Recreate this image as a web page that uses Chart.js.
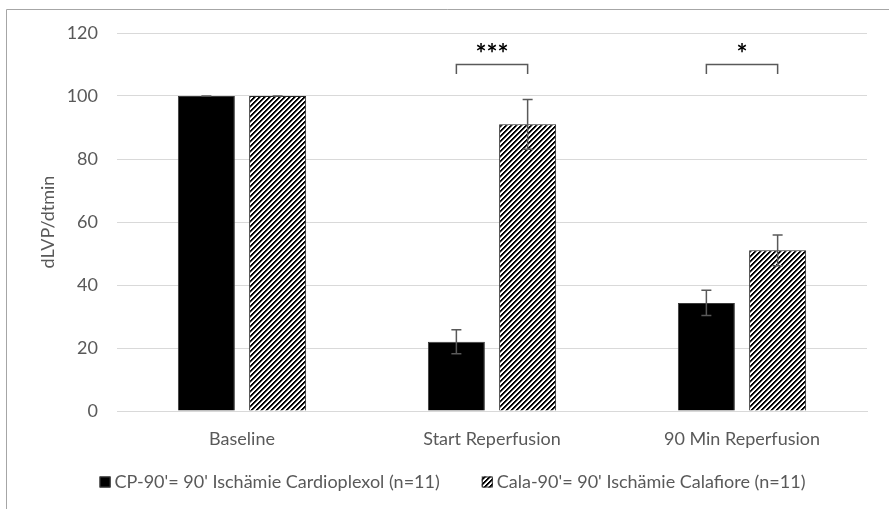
<!DOCTYPE html>
<html lang="de">
<head>
<meta charset="utf-8">
<script src="https://cdn.jsdelivr.net/npm/chart.js@4.4.0/dist/chart.umd.min.js"></script>
<style>
  html, body { margin: 0; padding: 0; background: #fff; }
  #wrap { position: relative; width: 889px; height: 509px; }
</style>
</head>
<body>
<div id="wrap"><canvas id="chart" width="889" height="509"></canvas></div>
<script>
// values
var categories = ['Baseline', 'Start Reperfusion', '90 Min Reperfusion'];
var seriesNames = ["CP-90'= 90' Ischämie Cardioplexol (n=11)", "Cala-90'= 90' Ischämie Calafiore (n=11)"];
var cpValues = [100, 22, 34.3];
var cpErrors = [0, 3.8, 4];
var calaValues = [100, 91, 51];
var calaErrors = [0, 7.9, 4.9];
var sigMarks = ['', '***', '*'];
var sigLevel = [0, 110, 110];
var yMin = 0, yMax = 120, yStep = 20;

var grey = '#595959';
var font = 'Lato';

// wide upward diagonal hatch like the Excel fill
function makeHatch(ctx) {
  var c = document.createElement('canvas');
  c.width = 5; c.height = 5;
  var g = c.getContext('2d');
  g.fillStyle = '#fff';
  g.fillRect(0, 0, 5, 5);
  for (var x = 0; x < 5; x++) {
    for (var y = 0; y < 5; y++) {
      var k = (x + y) % 5;
      if (k < 2) { g.fillStyle = '#000'; g.fillRect(x, y, 1, 1); }
      else if (k == 2) { g.fillStyle = '#808080'; g.fillRect(x, y, 1, 1); }
    }
  }
  return ctx.createPattern(c, 'repeat');
}

var canvas = document.getElementById('chart');
var ctx = canvas.getContext('2d');

// frame of the pasted chart (left and top edge only)
var framePlugin = {
  id: 'frame',
  beforeDraw: function(chart) {
    var c = chart.ctx;
    c.save();
    c.fillStyle = '#fff';
    c.fillRect(0, 0, chart.width, chart.height);
    c.strokeStyle = '#a6a6a6';
    c.lineWidth = 1;
    c.beginPath();
    c.moveTo(6.5, chart.height);
    c.lineTo(6.5, 9.5);
    c.lineTo(chart.width, 9.5);
    c.stroke();
    c.restore();
  }
};

// standard error bars
var errorBarPlugin = {
  id: 'errorBars',
  afterDatasetsDraw: function(chart) {
    var c = chart.ctx, ys = chart.scales.y;
    c.save();
    c.strokeStyle = grey;
    c.lineWidth = 1.5;
    chart.data.datasets.forEach(function(ds, di) {
      chart.getDatasetMeta(di).data.forEach(function(bar, i) {
        var v = ds.data[i], e = ds.errors[i];
        var top = ys.getPixelForValue(v + e), bot = ys.getPixelForValue(v - e);
        c.beginPath();
        c.moveTo(bar.x, top); c.lineTo(bar.x, bot);
        c.moveTo(bar.x - 5, top); c.lineTo(bar.x + 5, top);
        c.moveTo(bar.x - 5, bot); c.lineTo(bar.x + 5, bot);
        c.stroke();
      });
    });
    c.restore();
  }
};

// significance brackets between the two bars of a group
var sigPlugin = {
  id: 'sig',
  afterDraw: function(chart) {
    var c = chart.ctx, ys = chart.scales.y;
    var m0 = chart.getDatasetMeta(0).data, m1 = chart.getDatasetMeta(1).data;
    c.save();
    sigMarks.forEach(function(mark, i) {
      if (!mark) return;
      var x1 = m0[i].x, x2 = m1[i].x;
      var yTop = ys.getPixelForValue(sigLevel[i]);
      var yLeg = ys.getPixelForValue(sigLevel[i] - 3);
      c.strokeStyle = grey;
      c.lineWidth = 1.5;
      c.beginPath();
      c.moveTo(x1, yLeg); c.lineTo(x1, yTop); c.lineTo(x2, yTop); c.lineTo(x2, yLeg);
      c.stroke();
      c.fillStyle = '#000';
      c.font = 'bold 26px ' + font;
      c.textAlign = 'center';
      c.textBaseline = 'alphabetic';
      c.fillText(mark, (x1 + x2) / 2, yTop - 2);
    });
    c.restore();
  }
};

// legend under the axis, Excel style (small box, short gap)
var legendPlugin = {
  id: 'bottomLegend',
  afterDraw: function(chart) {
    var c = chart.ctx;
    var box = 11, gap = 4, spacing = 42;
    c.save();
    c.font = '18px ' + font;
    var items = chart.data.datasets.map(function(ds) {
      return { ds: ds, w: box + gap + c.measureText(ds.label).width };
    });
    var total = spacing * (items.length - 1);
    items.forEach(function(it) { total += it.w; });
    var x = chart.width / 2 + 8 - total / 2;
    var y = chart.chartArea.bottom + 71;
    items.forEach(function(it) {
      c.fillStyle = it.ds.backgroundColor;
      c.fillRect(x, y - box / 2, box, box);
      c.strokeStyle = it.ds.borderColor;
      c.lineWidth = 1;
      c.strokeRect(x + 0.5, y - box / 2 + 0.5, box - 1, box - 1);
      c.fillStyle = grey;
      c.textAlign = 'left';
      c.textBaseline = 'middle';
      c.fillText(it.ds.label, x + box + gap, y);
      x += it.w + spacing;
    });
    c.restore();
  }
};

var hatch = makeHatch(ctx);

new Chart(ctx, {
  type: 'bar',
  data: {
    labels: categories,
    datasets: [{
      label: seriesNames[0],
      data: cpValues,
      errors: cpErrors,
      backgroundColor: '#000',
      borderColor: '#3a3a3a',
      borderWidth: 1
    }, {
      label: seriesNames[1],
      data: calaValues,
      errors: calaErrors,
      backgroundColor: hatch,
      borderColor: '#262626',
      borderWidth: 1
    }]
  },
  options: {
    responsive: false,
    animation: false,
    categoryPercentage: 0.57,
    barPercentage: 0.8,
    layout: { padding: { left: 37, right: 22, top: 33, bottom: 38 } },
    plugins: {
      tooltip: { enabled: false },
      legend: { display: false }
    },
    scales: {
      x: {
        grid: { display: false },
        border: { color: '#d9d9d9' },
        ticks: { color: grey, padding: 9, font: { family: font, size: 18 } },
        afterFit: function(s) { s.height = 60; }
      },
      y: {
        min: yMin,
        max: yMax,
        ticks: { stepSize: yStep, color: grey, padding: 19, font: { family: font, size: 18 } },
        grid: { color: '#d9d9d9', drawTicks: false },
        border: { display: false },
        title: {
          display: true,
          text: 'dLVP/dtmin',
          color: grey,
          padding: { top: 0, bottom: 0 },
          font: { family: font, size: 18 }
        },
        afterFit: function(s) { s.width = 80; }
      }
    }
  },
  plugins: [framePlugin, errorBarPlugin, sigPlugin, legendPlugin]
});
</script>
</body>
</html>
